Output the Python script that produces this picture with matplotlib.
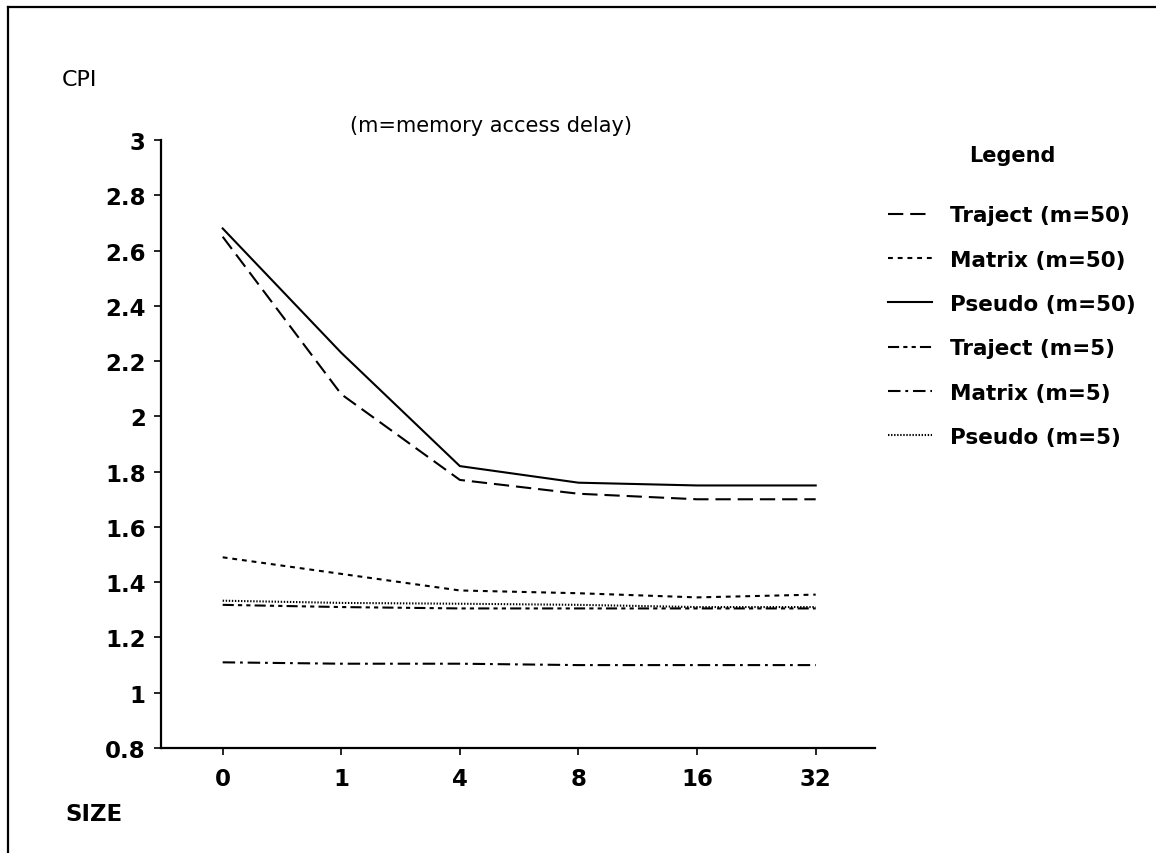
import matplotlib.pyplot as plt
from matplotlib.lines import Line2D

plt.rcParams['font.family'] = ['DejaVu Sans']
plt.rcParams['lines.scale_dashes'] = False

sizes = ['0', '1', '4', '8', '16', '32']
traject_m50 = [2.65, 2.08, 1.77, 1.72, 1.70, 1.70]
matrix_m50 = [1.49, 1.43, 1.37, 1.36, 1.345, 1.355]
pseudo_m50 = [2.68, 2.23, 1.82, 1.76, 1.75, 1.75]
traject_m5 = [1.318, 1.31, 1.305, 1.305, 1.305, 1.305]
matrix_m5 = [1.11, 1.105, 1.105, 1.10, 1.10, 1.10]
pseudo_m5 = [1.333, 1.325, 1.322, 1.318, 1.31, 1.31]

series = [
    ('Traject (m=50)', traject_m50, (0, (11, 5))),
    ('Matrix (m=50)', matrix_m50, (0, (3.5, 3.5))),
    ('Pseudo (m=50)', pseudo_m50, '-'),
    ('Traject (m=5)', traject_m5, (0, (8, 3, 3, 3, 3, 3))),
    ('Matrix (m=5)', matrix_m5, (0, (9, 3.5, 2, 3.5))),
    ('Pseudo (m=5)', pseudo_m5, (0, (1, 1.2))),
]

W, H = 1156, 854
fig = plt.figure(figsize=(W / 100, H / 100), dpi=100)
ax = fig.add_axes([161 / W, 1 - 749 / H, (875 - 161) / W, (749 - 141) / H])

x = list(range(len(sizes)))
for name, vals, ls in series:
    ax.plot(x, vals, color='black', linewidth=1.5, linestyle=ls, label=name)

ax.set_xlim(-0.52, 5.5)
ax.set_ylim(0.8, 3.0)
ax.set_xticks(x)
ax.set_xticklabels(sizes)
ax.set_yticks([0.8, 1, 1.2, 1.4, 1.6, 1.8, 2, 2.2, 2.4, 2.6, 2.8, 3])
ax.set_yticklabels(['0.8', '1', '1.2', '1.4', '1.6', '1.8', '2', '2.2', '2.4',
                    '2.6', '2.8', '3'])
for lab in ax.get_xticklabels() + ax.get_yticklabels():
    lab.set_fontweight('bold')
    lab.set_fontsize(16.5)
ax.tick_params(axis='x', direction='out', length=5, width=1.2, pad=9)
ax.tick_params(axis='y', direction='out', length=5, width=1.2, pad=6)
ax.spines['top'].set_visible(False)
ax.spines['right'].set_visible(False)
ax.spines['left'].set_linewidth(1.6)
ax.spines['bottom'].set_linewidth(1.6)

fig.text(62 / W, 1 - 80 / H, 'CPI', fontsize=16, va='center', ha='left')
fig.text(65 / W, 1 - 815 / H, 'SIZE', fontsize=16.5, fontweight='bold',
         va='center', ha='left')
fig.text(491 / W, 1 - 126 / H, '(m=memory access delay)', fontsize=15,
         va='center', ha='center')

leg = fig.legend(loc='upper left', bbox_to_anchor=(888 / W, 1 - 146 / H),
                 frameon=False, title='Legend', borderpad=0, borderaxespad=0,
                 handlelength=2.05, handletextpad=0.84, labelspacing=1.13,
                 prop={'size': 15.5, 'weight': 'bold'},
                 title_fontproperties={'size': 15, 'weight': 'bold'})
leg._legend_box.sep = 29

# scanned page frame
fig.add_artist(Line2D([8 / W, 8 / W], [0, 1 - 8 / H], color='black',
                      linewidth=1.6, transform=fig.transFigure))
fig.add_artist(Line2D([8 / W, 1], [1 - 8 / H, 1 - 8 / H], color='black',
                      linewidth=1.6, transform=fig.transFigure))

fig.savefig('out.png', dpi=100)
